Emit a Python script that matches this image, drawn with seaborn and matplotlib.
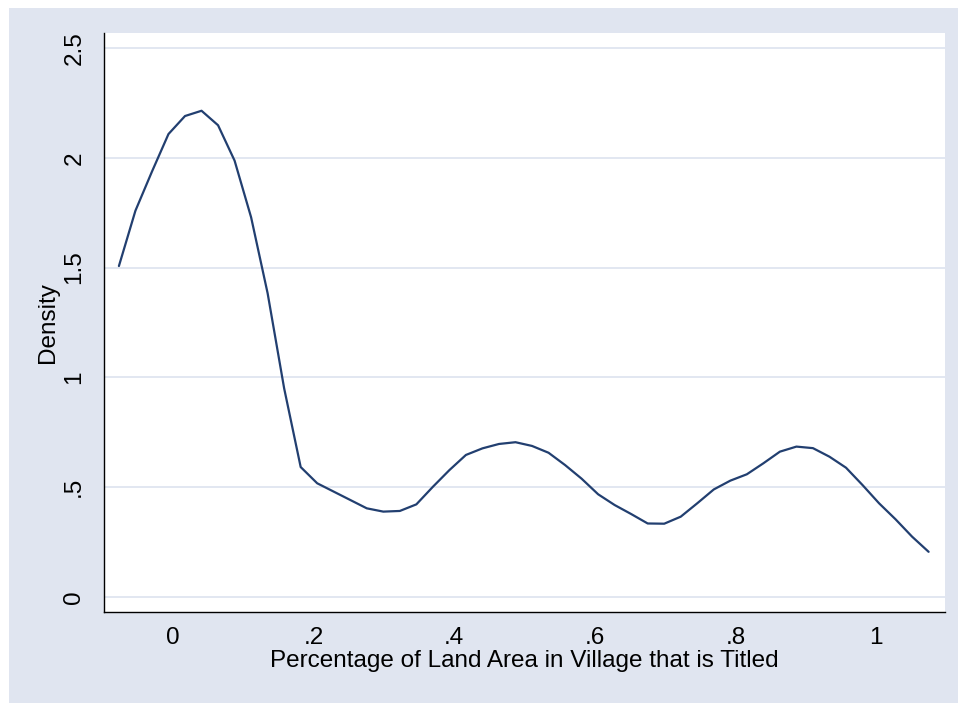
import numpy as np
import pandas as pd
import matplotlib
matplotlib.use("Agg")
import matplotlib.pyplot as plt
from matplotlib.patches import Rectangle
import seaborn as sns

# Kernel density estimate of titled land share, evaluated on a 50-point grid
grid_x = [-0.0768, -0.0533, -0.0298, -0.0063, 0.0172, 0.0407, 0.0642, 0.0877,
          0.1112, 0.1347, 0.1582, 0.1817, 0.2052, 0.2287, 0.2522, 0.2757,
          0.2992, 0.3227, 0.3462, 0.3697, 0.3932, 0.4167, 0.4402, 0.4637,
          0.4872, 0.5107, 0.5342, 0.5577, 0.5812, 0.6047, 0.6282, 0.6517,
          0.6752, 0.6987, 0.7222, 0.7457, 0.7692, 0.7927, 0.8162, 0.8397,
          0.8632, 0.8867, 0.9102, 0.9337, 0.9572, 0.9807, 1.0042, 1.0277,
          1.0512, 1.0747]
density = [1.507, 1.759, 1.937, 2.108, 2.190, 2.214, 2.148, 1.987,
           1.729, 1.383, 0.950, 0.592, 0.518, 0.480, 0.442, 0.404,
           0.389, 0.392, 0.422, 0.502, 0.578, 0.647, 0.677, 0.697,
           0.705, 0.688, 0.657, 0.601, 0.539, 0.468, 0.419, 0.378,
           0.335, 0.334, 0.366, 0.427, 0.490, 0.530, 0.559, 0.609,
           0.662, 0.685, 0.678, 0.639, 0.589, 0.510, 0.427, 0.354,
           0.275, 0.206]

x_ticks = [0, 0.2, 0.4, 0.6, 0.8, 1.0]
x_tick_labels = ["0", ".2", ".4", ".6", ".8", "1"]
y_ticks = [0, 0.5, 1.0, 1.5, 2.0, 2.5]
y_tick_labels = ["0", ".5", "1", "1.5", "2", "2.5"]

x_label = "Percentage of Land Area in Village that is Titled"
y_label = "Density"

df = pd.DataFrame({"x": grid_x, "density": density})

sns.set_style("white")
plt.rcParams["font.family"] = ["Liberation Sans", "DejaVu Sans"]
plt.rcParams["text.color"] = "black"
plt.rcParams["axes.labelcolor"] = "black"

W, H = 958, 703
fig = plt.figure(figsize=(W / 100, H / 100), dpi=100)
fig.patch.set_facecolor("white")

# light bluish-gray graph region
fig.add_artist(Rectangle((9 / W, 0), 1 - 9 / W, 1 - 8 / H,
                         transform=fig.transFigure, facecolor="#E0E5F0",
                         edgecolor="none", zorder=0))

left, right, top, bottom = 104, 945, 33, 612
ax = fig.add_axes([left / W, 1 - bottom / H, (right - left) / W, (bottom - top) / H])
ax.set_facecolor("white")
ax.set_zorder(1)

sns.lineplot(data=df, x="x", y="density", ax=ax, color="#223F70",
             linewidth=1.6, estimator=None, sort=False)

ax.set_xlim(-0.098, 1.098)
ax.set_ylim(-0.068, 2.568)

for yt in y_ticks:
    ax.axhline(yt, color="#E2E7F1", linewidth=1.4, zorder=0)

ax.set_xticks(x_ticks)
ax.set_xticklabels(x_tick_labels)
ax.set_yticks(y_ticks)
ax.set_yticklabels(y_tick_labels, rotation=90, va="center")

ax.tick_params(axis="both", direction="out", length=6.5, width=1.0,
               colors="black", labelsize=17.5)
ax.tick_params(axis="x", pad=4)
ax.tick_params(axis="y", pad=7)

for side in ["top", "right"]:
    ax.spines[side].set_visible(False)
for side in ["left", "bottom"]:
    ax.spines[side].set_color("black")
    ax.spines[side].set_linewidth(1.0)

ax.set_xlabel(x_label, fontsize=17.5, labelpad=1, color="black")
ax.set_ylabel(y_label, fontsize=17.5, labelpad=3, color="black")

fig.savefig("out.png", dpi=100, facecolor=fig.get_facecolor())
